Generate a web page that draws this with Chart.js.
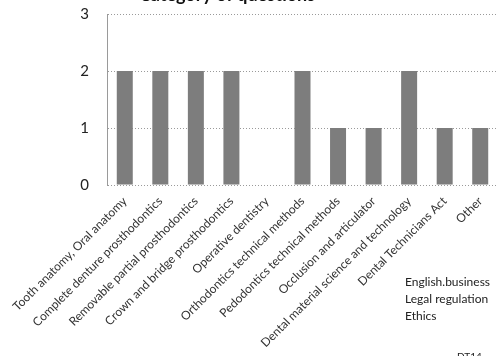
<!DOCTYPE html>
<html>
<head>
<meta charset="utf-8">
<script src="https://cdn.jsdelivr.net/npm/chart.js@4/dist/chart.umd.min.js"></script>
<style>
  html, body { margin: 0; padding: 0; background: #fff; }
  #wrap { position: relative; width: 501px; height: 356px; overflow: hidden; }
  #c { position: absolute; left: 0; top: -14px; }
</style>
</head>
<body>
<div id="wrap"><canvas id="c" width="501" height="370"></canvas></div>
<script>
// Question categories and number of questions in each
const categories = [
  'Tooth anatomy, Oral anatomy',
  'Complete denture prosthodontics',
  'Removable partial prosthodontics',
  'Crown and bridge prosthodontics',
  'Operative dentistry',
  'Orthodontics technical methods',
  'Pedodontics technical methods',
  'Occlusion and articulator',
  'Dental material science and technology',
  'Dental Technicians Act',
  'Other'
];
const questionCounts = [2, 2, 2, 2, 0, 2, 1, 1, 2, 1, 1];
const yTicks = [0, 1, 2, 3];
const chartTitle = 'Category of questions';
const otherNote = ['English.business', 'Legal regulation', 'Ethics'];
const footNote = 'DT14';

const FONT = 'Lato, "Open Sans", sans-serif';

// Title, side note and footer drawn as plain canvas text
const textPlugin = {
  id: 'textPlugin',
  afterDraw(chart) {
    const ctx = chart.ctx;
    ctx.save();
    ctx.fillStyle = '#111';
    ctx.font = 'bold 18px ' + FONT;
    ctx.textAlign = 'center';
    ctx.textBaseline = 'alphabetic';
    ctx.fillText(chartTitle, 227, 15);

    ctx.font = '12px ' + FONT;
    ctx.fillStyle = '#222';
    ctx.textAlign = 'left';
    ctx.textBaseline = 'middle';
    otherNote.forEach((t, i) => ctx.fillText(t, 405, 296 + i * 17));

    ctx.font = '10px ' + FONT;
    ctx.textBaseline = 'top';
    ctx.fillText(footNote, 457, 366);
    ctx.restore();
  }
};

new Chart(document.getElementById('c'), {
  type: 'bar',
  data: {
    labels: categories,
    datasets: [{
      data: questionCounts,
      backgroundColor: '#7d7d7d',
      borderWidth: 0,
      barPercentage: 0.45,
      categoryPercentage: 1.0
    }]
  },
  options: {
    responsive: false,
    animation: false,
    devicePixelRatio: 1,
    layout: { padding: { top: 28, right: 3, left: 0, bottom: 0 } },
    plugins: {
      legend: { display: false },
      tooltip: { enabled: false },
      title: { display: false }
    },
    scales: {
      x: {
        grid: { display: false },
        border: { display: false },
        ticks: {
          autoSkip: false,
          maxRotation: 45,
          minRotation: 45,
          padding: 1,
          color: '#333',
          font: { family: FONT, size: 12 }
        },
        afterFit(scale) { scale.height = 171; }
      },
      y: {
        min: 0,
        max: 3,
        afterBuildTicks(scale) { scale.ticks = yTicks.map(v => ({ value: v })); },
        grid: {
          color: '#9a9a9a',
          lineWidth: 1,
          drawTicks: false
        },
        border: { display: true, dash: [1, 2], color: '#9a9a9a' },
        ticks: {
          padding: 18,
          color: '#222',
          font: { family: FONT, size: 15 }
        },
        afterFit(scale) { scale.width = 107; }
      }
    }
  },
  plugins: [textPlugin]
});
</script>
</body>
</html>
